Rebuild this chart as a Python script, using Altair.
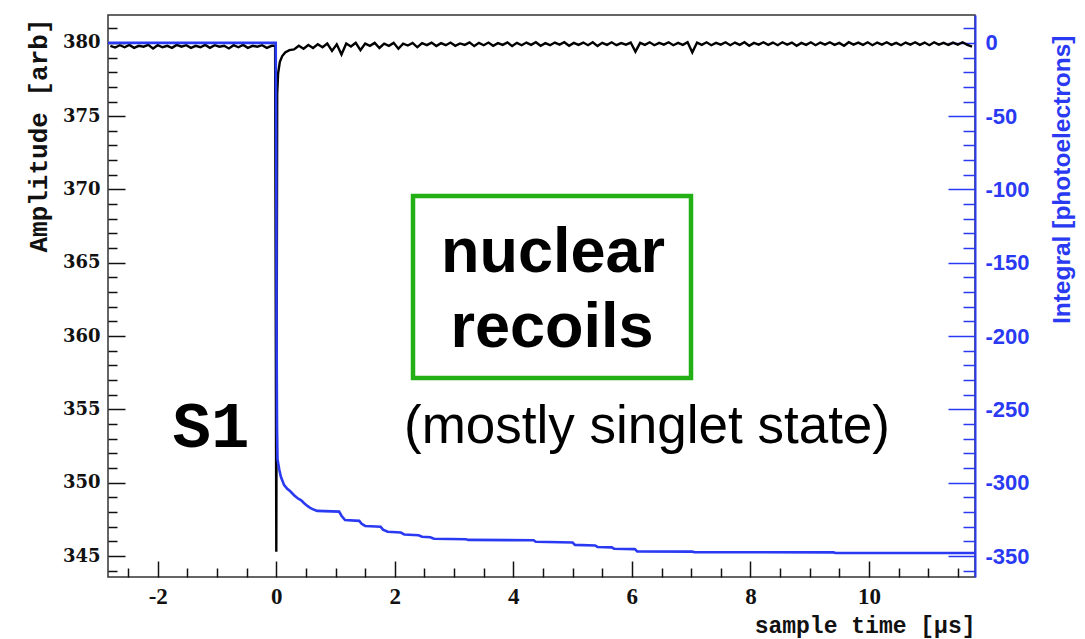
import altair as alt
import pandas as pd

# ---------------- data ----------------
# black trace: amplitude [arb]
black_pre_start = -2.8
black_step = 0.08
black_pre = [379.80, 379.68, 379.84, 379.70, 379.86, 379.66, 379.80, 379.74, 379.86, 379.62,
             379.84, 379.70, 379.80, 379.66, 379.86, 379.74, 379.84, 379.66, 379.80, 379.70,
             379.86, 379.66, 379.84, 379.74, 379.80, 379.62, 379.84, 379.70, 379.86, 379.66,
             379.80, 379.74, 379.84, 379.66, 379.80]
black_spike_t = [-0.02, 0.0, 0.015, 0.03, 0.06, 0.10, 0.15, 0.22]
black_spike_v = [379.8, 345.3, 376.5, 377.9, 378.7, 379.1, 379.35, 379.5]
black_post_start = 0.3
black_post = [379.55, 379.80, 379.60, 379.85, 379.65, 379.90, 379.70, 379.95, 379.45, 379.90,
              379.20, 379.95, 379.75, 380.00, 379.50, 379.95, 379.80, 380.00, 379.65, 379.95,
              379.80, 380.00, 379.60, 379.95, 379.82, 380.00, 379.70, 379.98, 379.85, 380.02,
              379.78, 379.98, 379.84, 380.02, 379.80, 379.96, 379.86, 380.03, 379.78, 380.00,
              379.84, 380.02, 379.80, 379.98, 379.86, 380.03, 379.78, 380.00, 379.84, 380.02,
              379.86, 380.04, 379.80, 379.98, 379.84, 380.02, 379.88, 380.04, 379.80, 380.00,
              379.86, 380.02, 379.84, 380.04, 379.78, 380.00, 379.86, 380.04, 379.84, 379.98,
              379.88, 380.02, 379.40, 380.00, 379.86, 380.04, 379.84, 380.00, 379.88, 380.04,
              379.84, 380.00, 379.86, 380.04, 379.35, 380.02, 379.86, 380.04, 379.84, 380.00,
              379.88, 380.04, 379.84, 380.02, 379.86, 380.04, 379.80, 380.00, 379.88, 380.04,
              379.86, 380.02, 379.84, 380.04, 379.88, 380.02, 379.80, 380.00, 379.86, 380.04,
              379.84, 380.02, 379.88, 380.04, 379.86, 380.00, 379.80, 380.04, 379.88, 380.02,
              379.86, 380.04, 379.84, 380.02, 379.88, 380.04, 379.86, 380.00, 379.84, 380.02,
              379.88, 380.04, 379.86, 380.02, 379.84, 380.04, 379.88, 380.00, 379.86, 380.02,
              379.88, 380.04, 379.86, 379.75]

# blue trace: integral [photoelectrons]
blue_t = [-2.84, -0.01, 0.0, 0.005, 0.012, 0.02, 0.05, 0.076, 0.13, 0.18,
          0.24, 0.30, 0.36, 0.42, 0.47, 0.53, 0.58, 0.64, 0.69, 1.06,
          1.10, 1.16, 1.40, 1.44, 1.50, 1.76, 1.80, 1.88, 2.10, 2.16,
          2.40, 2.46, 2.60, 2.66, 3.20, 3.24, 4.34, 4.38, 5.00, 5.04,
          5.38, 5.42, 5.66, 5.70, 6.05, 6.09, 7.02, 7.06, 9.40, 9.44, 11.79]
blue_v = [0, 0, -90, -200, -262, -284, -291, -295.8, -301.5, -304,
          -306, -308.5, -310.6, -312, -314, -316, -317.4, -318.5, -319.2, -319.7,
          -322.5, -325.4, -326, -328, -329.5, -330, -332, -333.4, -334, -335.3,
          -335.8, -336.8, -337.2, -338.2, -338.6, -339.0, -339.2, -340.3, -340.8, -342.4,
          -342.8, -343.8, -344.1, -345.0, -345.3, -346.8, -347.0, -347.4, -347.5, -347.9, -347.9]

# axis ticks
x_tick_values = [-2.5, -2.0, -1.5, -1.0, -0.5, 0.0, 0.5, 1.0, 1.5, 2.0, 2.5, 3.0, 3.5, 4.0, 4.5,
                 5.0, 5.5, 6.0, 6.5, 7.0, 7.5, 8.0, 8.5, 9.0, 9.5, 10.0, 10.5, 11.0, 11.5]
y_left_tick_values = list(range(344, 382))
y_right_tick_values = list(range(-360, 20, 10))

x_domain = [-2.84, 11.79]
y_left_domain = [343.57, 381.9]
y_right_domain = [-364.3, 19.0]

ann_texts = ["S1", "nuclear", "recoils", "(mostly singlet state)"]

# ---------------- frames ----------------
t_pre = [round(black_pre_start + black_step * i, 4) for i in range(len(black_pre))]
t_post = [round(black_post_start + black_step * i, 4) for i in range(len(black_post))]
black_t = t_pre + black_spike_t + t_post
black_v = black_pre + black_spike_v + black_post
black_df = pd.DataFrame({"t": black_t, "amp": black_v, "i": list(range(len(black_t)))})
blue_df = pd.DataFrame({"t": blue_t, "integral": blue_v, "i": list(range(len(blue_t)))})

W, H = 867, 562
BLUE = "#2a3af2"
INK = "#111111"

x_axis = alt.Axis(
    values=x_tick_values,
    tickSize={"expr": "abs(datum.value % 2) < 0.01 ? -16 : -9"},
    tickColor=INK, tickWidth=1.5,
    labelExpr="abs(datum.value % 2) < 0.01 ? toString(datum.value) : ''",
    labelFont="Liberation Serif", labelFontWeight="bold", labelFontSize=23, labelColor=INK,
    labelPadding=24, labelFlush=False, labelOverlap=False,
    domain=False, grid=False,
    title="sample time [µs]", titleFont="Liberation Mono", titleFontSize=23,
    titleFontWeight="bold", titleColor=INK,
    titleX=W, titleY=48, titleAlign="right", titleBaseline="middle", titleAngle=0,
)

y_left_axis = alt.Axis(
    values=y_left_tick_values,
    tickSize={"expr": "datum.value % 5 === 0 ? -17 : -9"},
    tickColor=INK, tickWidth=1.5,
    labelExpr="datum.value % 5 === 0 ? toString(datum.value) : ''",
    labelFont="DejaVu Serif", labelFontWeight="bold", labelFontSize=18, labelColor=INK,
    labelPadding=25, labelFlush=False, labelOverlap=False,
    domain=False, grid=False,
    title="Amplitude [arb]", titleFont="Liberation Mono", titleFontSize=26,
    titleFontWeight="bold", titleColor=INK,
    titleAngle=270, titleAlign="right", titleBaseline="middle", titleX=-70, titleY=3,
)

y_right_axis = alt.Axis(
    orient="right",
    values=y_right_tick_values,
    tickSize={"expr": "datum.value % 50 === 0 ? -27 : -12"},
    tickColor=BLUE, tickWidth=1.5,
    labelExpr="datum.value % 50 === 0 ? toString(datum.value) : ''",
    labelFont="Liberation Sans", labelFontWeight="bold", labelFontSize=22, labelColor=BLUE,
    labelPadding=37, labelFlush=False, labelOverlap=False,
    domain=True, domainColor=BLUE, domainWidth=2,
    grid=False,
    title="Integral [photoelectrons]", titleFont="Liberation Sans", titleFontSize=24.5,
    titleFontWeight="bold", titleColor=BLUE,
    titleAngle=270, titleAlign="right", titleBaseline="middle", titleX=87, titleY=20,
)

x_enc = alt.X("t:Q", scale=alt.Scale(domain=x_domain, nice=False, zero=False), axis=x_axis)

black = alt.Chart(black_df).mark_line(color="#000000", strokeWidth=2.4, clip=True).encode(
    x=x_enc,
    y=alt.Y("amp:Q", scale=alt.Scale(domain=y_left_domain, nice=False, zero=False), axis=y_left_axis),
    order="i:Q",
)

blue = alt.Chart(blue_df).mark_line(color=BLUE, strokeWidth=2.6, clip=True).encode(
    x=x_enc,
    y=alt.Y("integral:Q", scale=alt.Scale(domain=y_right_domain, nice=False, zero=False), axis=y_right_axis),
    order="i:Q",
)


def label_layer(text, font, size, weight, x, y):
    return alt.Chart(pd.DataFrame({"label": [text]})).mark_text(
        font=font, fontSize=size, fontWeight=weight, color="#000000",
        align="center", baseline="alphabetic",
    ).encode(x=alt.value(x), y=alt.value(y), text="label:N")


s1 = label_layer(ann_texts[0], "Liberation Mono", 64, "bold", 103, 432)
nuc = label_layer(ann_texts[1], "Liberation Sans", 63, "bold", 445, 257)
rec = label_layer(ann_texts[2], "Liberation Sans", 63, "bold", 444, 332)
mostly = label_layer(ann_texts[3], "Liberation Sans", 53, "normal", 539, 428)

box = alt.Chart(pd.DataFrame({"k": [0]})).mark_rect(
    fillOpacity=0, stroke="#22b014", strokeWidth=4.5
).encode(x=alt.value(305), x2=alt.value(583), y=alt.value(181), y2=alt.value(363))

chart = alt.layer(black, blue, box, nuc, rec, mostly, s1).resolve_scale(
    y="independent"
).properties(
    width=W, height=H,
    padding={"left": 108, "top": 15, "right": 110, "bottom": 62},
    autosize=alt.AutoSizeParams(type="none"),
    background="white",
).configure_view(stroke="#333333", strokeWidth=1.5)

chart.save("out.html", embed_options={"renderer": "svg", "actions": False})
